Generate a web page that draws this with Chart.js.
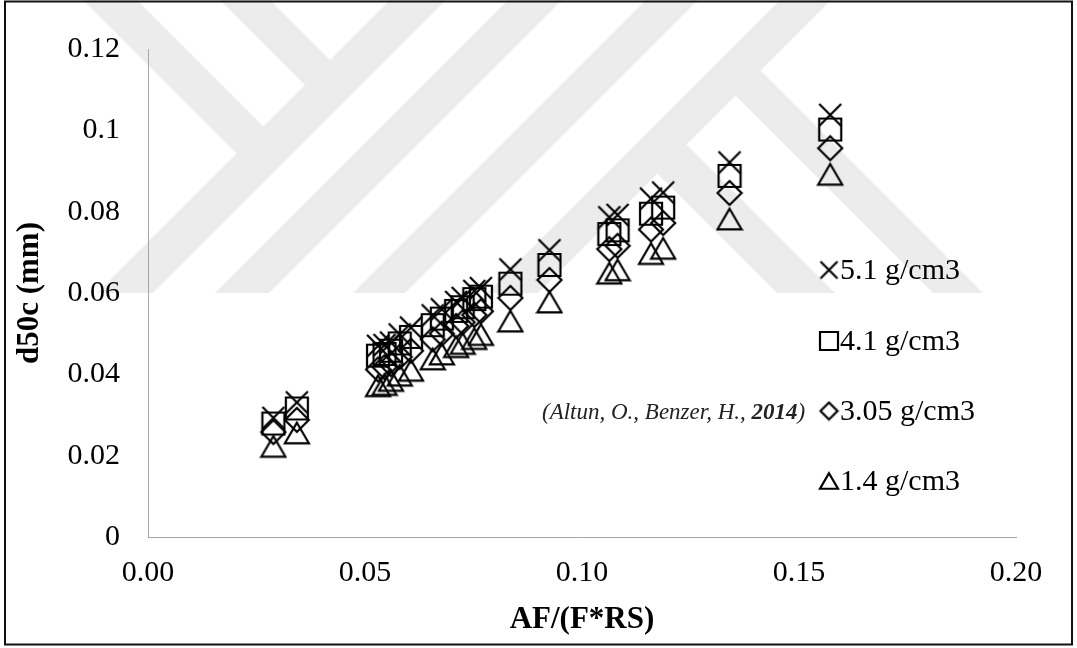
<!DOCTYPE html>
<html>
<head>
<meta charset="utf-8">
<script src="https://cdn.jsdelivr.net/npm/chart.js@4.4.1/dist/chart.umd.min.js"></script>
<style>
html,body{margin:0;padding:0;background:#fff;}
#wrap{width:1077px;height:648px;position:relative;}
canvas{display:block;}
</style>
</head>
<body>
<div id="wrap"><canvas id="c" width="1077" height="648"></canvas></div>
<script>
// ---- data ----
const afRatio = [0.0289, 0.0343, 0.0530, 0.0545, 0.0560, 0.0580, 0.0606, 0.0656, 0.0677, 0.0710, 0.0725,
                 0.0752, 0.0767, 0.0835, 0.0925, 0.1063, 0.1082, 0.1159, 0.1187, 0.1340, 0.1572];
const d50c_51  = [0.0293, 0.0331, 0.0470, 0.0472, 0.0478, 0.0498, 0.0515, 0.0545, 0.0560, 0.0578, 0.0588,
                  0.0605, 0.0612, 0.0658, 0.0705, 0.0786, 0.0792, 0.0832, 0.0847, 0.0921, 0.1038];
const d50c_41  = [0.0279, 0.0316, 0.0446, 0.0450, 0.0458, 0.0476, 0.0492, 0.0521, 0.0537, 0.0556, 0.0565,
                  0.0585, 0.0591, 0.0623, 0.0669, 0.0745, 0.0754, 0.0795, 0.0810, 0.0888, 0.1002];
const d50c_305 = [0.0258, 0.0288, 0.0412, 0.0418, 0.0425, 0.0443, 0.0458, 0.0486, 0.0500, 0.0519, 0.0528,
                  0.0546, 0.0555, 0.0588, 0.0632, 0.0708, 0.0716, 0.0756, 0.0772, 0.0846, 0.0956];
const d50c_14  = [0.0223, 0.0256, 0.0372, 0.0375, 0.0385, 0.0398, 0.0410, 0.0438, 0.0450, 0.0468, 0.0476,
                  0.0488, 0.0498, 0.0531, 0.0578, 0.0649, 0.0657, 0.0697, 0.0710, 0.0782, 0.0892];
const seriesLabels = ['5.1 g/cm3', '4.1 g/cm3', '3.05 g/cm3', '1.4 g/cm3'];
const xTickLabels = ['0.00', '0.05', '0.10', '0.15', '0.20'];
const yTickLabels = ['0', '0.02', '0.04', '0.06', '0.08', '0.1', '0.12'];
const xTitle = 'AF/(F*RS)';
const yTitle = 'd50c (mm)';
const sourceNoteParts = ['(Altun, O., Benzer, H., ', '2014', ')'];

// ---- styling helpers ----
const FONT = "'Liberation Serif', 'Times New Roman', serif";

function makeMarker(kind, size, lw) {
  const pad = 2;
  const s = Math.ceil(size + pad * 2);
  const c = document.createElement('canvas');
  c.width = s; c.height = s;
  const g = c.getContext('2d');
  g.strokeStyle = '#000';
  g.lineWidth = lw;
  g.lineJoin = 'miter';
  const m = s / 2, h = size / 2;
  g.beginPath();
  if (kind === 'cross') {
    g.moveTo(m - h, m - h); g.lineTo(m + h, m + h);
    g.moveTo(m + h, m - h); g.lineTo(m - h, m + h);
  } else if (kind === 'rect') {
    g.rect(m - h, m - h, size, size);
  } else if (kind === 'diamond') {
    g.moveTo(m, m - h); g.lineTo(m + h, m); g.lineTo(m, m + h); g.lineTo(m - h, m); g.closePath();
  } else {
    const th = size * 0.86;
    g.moveTo(m, m - th / 2); g.lineTo(m + h, m + th / 2); g.lineTo(m - h, m + th / 2); g.closePath();
  }
  g.stroke();
  return c;
}

const plotMarkers = [makeMarker('cross', 22, 2.2), makeMarker('rect', 22, 2.2), makeMarker('diamond', 24, 2.2), makeMarker('tri', 24, 2.2)];
const legendMarkers = [makeMarker('cross', 17, 2.2), makeMarker('rect', 18, 2.2), makeMarker('diamond', 17, 2.2), makeMarker('tri', 18, 2.2)];

const seriesValues = [d50c_51, d50c_41, d50c_305, d50c_14];

const datasets = seriesValues.map((vals, k) => ({
  label: seriesLabels[k],
  data: afRatio.map((x, i) => ({ x: x, y: vals[i] })),
  pointStyle: plotMarkers[k],
  pointRadius: 11,
  pointHoverRadius: 11,
  showLine: false
}));

// background watermark (light grey chevron bands)
const watermarkPlugin = {
  id: 'watermark',
  beforeDraw(chart) {
    const ctx = chart.ctx;
    ctx.save();
    ctx.fillStyle = '#ffffff';
    ctx.fillRect(0, 0, chart.width, chart.height);
    ctx.fillStyle = 'rgb(236,236,236)';
    const Y = 293;
    const fwd = [[390, 446], [508, 562], [646, 698], [780, 831]];
    fwd.forEach(([a, b]) => {
      ctx.beginPath();
      ctx.moveTo(a, 0); ctx.lineTo(b, 0); ctx.lineTo(b - Y, Y); ctx.lineTo(a - Y, Y); ctx.closePath(); ctx.fill();
    });
    const upper = [[83, 137, 410], [220, 270, 410]];
    upper.forEach(([c, d, e]) => {
      ctx.beginPath();
      ctx.moveTo(c, 0); ctx.lineTo(d, 0); ctx.lineTo((d + e) / 2, (e - d) / 2); ctx.lineTo((c + e) / 2, (e - c) / 2);
      ctx.closePath(); ctx.fill();
    });
    const lower = [[640, 690, 820], [484, 542, 820]];
    lower.forEach(([c, d, e]) => {
      ctx.beginPath();
      ctx.moveTo((c + e) / 2, (e - c) / 2); ctx.lineTo((d + e) / 2, (e - d) / 2); ctx.lineTo(d + Y, Y); ctx.lineTo(c + Y, Y);
      ctx.closePath(); ctx.fill();
    });
    ctx.restore();
  }
};

// legend, source note and outer frame
const overlayPlugin = {
  id: 'overlay',
  afterDraw(chart) {
    const ctx = chart.ctx;
    ctx.save();
    const rowsY = [270, 341, 411, 481];
    ctx.font = '30px ' + FONT;
    ctx.fillStyle = '#000';
    ctx.textBaseline = 'middle';
    ctx.textAlign = 'left';
    chart.data.datasets.forEach((ds, k) => {
      const m = legendMarkers[k];
      ctx.drawImage(m, 829 - m.width / 2, rowsY[k] - m.height / 2);
      ctx.fillText(ds.label, 840, rowsY[k] + 1);
    });
    let x = 542;
    const yN = 413;
    ctx.fillStyle = '#222';
    ctx.font = 'italic 23px ' + FONT;
    ctx.fillText(sourceNoteParts[0], x, yN);
    x += ctx.measureText(sourceNoteParts[0]).width;
    ctx.font = 'italic bold 23px ' + FONT;
    ctx.fillText(sourceNoteParts[1], x, yN);
    x += ctx.measureText(sourceNoteParts[1]).width;
    ctx.font = 'italic 23px ' + FONT;
    ctx.fillText(sourceNoteParts[2], x, yN);
    ctx.strokeStyle = '#111';
    ctx.lineWidth = 2;
    ctx.strokeRect(5, 1.5, 1067, 643);
    ctx.restore();
  }
};

new Chart(document.getElementById('c'), {
  type: 'scatter',
  data: { datasets: datasets },
  options: {
    responsive: false,
    animation: false,
    devicePixelRatio: 1,
    layout: { padding: { left: 0, right: 61, top: 49, bottom: 0 } },
    plugins: { legend: { display: false }, tooltip: { enabled: false } },
    scales: {
      x: {
        type: 'linear', min: 0, max: 0.2,
        afterBuildTicks: s => { s.ticks = xTickLabels.map(t => ({ value: parseFloat(t) })); },
        afterFit: s => { s.height = 111; },
        ticks: { callback: (v, i) => xTickLabels[i], padding: 18, color: '#000',
                 font: { family: FONT, size: 30 }, maxRotation: 0, autoSkip: false },
        grid: { display: false, drawTicks: false },
        border: { display: true, color: '#a6a6a6', width: 1 },
        title: { display: true, text: xTitle, color: '#000', font: { family: FONT, size: 31, weight: 'bold' },
                 padding: { top: 0, bottom: 9 } }
      },
      y: {
        type: 'linear', min: 0, max: 0.12,
        afterBuildTicks: s => { s.ticks = yTickLabels.map(t => ({ value: parseFloat(t) })); },
        afterFit: s => { s.width = 148; },
        ticks: { callback: (v, i) => yTickLabels[i], padding: 28, color: '#000',
                 font: { family: FONT, size: 30 }, autoSkip: false },
        grid: { display: false, drawTicks: false },
        border: { display: true, color: '#a6a6a6', width: 1 },
        title: { display: true, text: yTitle, color: '#000', font: { family: FONT, size: 31, weight: 'bold' },
                 padding: { top: 11, bottom: 0 } }
      }
    }
  },
  plugins: [watermarkPlugin, overlayPlugin]
});
</script>
</body>
</html>
